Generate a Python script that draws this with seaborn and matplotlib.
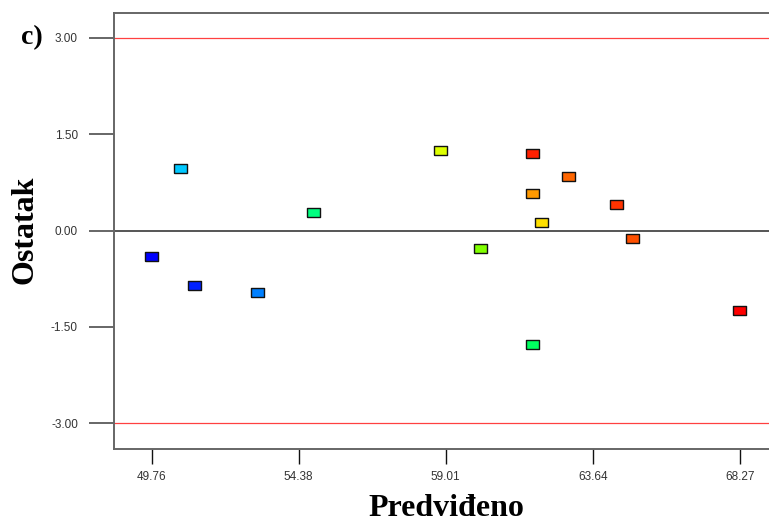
import matplotlib
matplotlib.use("Agg")
import matplotlib.pyplot as plt
import seaborn as sns
import pandas as pd

# Data
predicted = [49.76, 50.67, 51.11, 53.09, 54.85, 58.85, 60.11, 61.74, 61.74,
             62.03, 61.74, 62.87, 64.38, 64.88, 68.24]
residual = [-0.40, 0.96, -0.85, -0.96, 0.28, 1.24, -0.28, 1.20, 0.57,
            0.12, -1.77, 0.84, 0.40, -0.12, -1.24]
point_colors = ["#0000FF", "#00C8FF", "#0020FF", "#0080FF", "#00FF80",
                "#DDFF00", "#80FF00", "#FF2000", "#FF9900", "#FFE000",
                "#00FF60", "#FF6600", "#FF3300", "#FF5000", "#FF0000"]
x_ticks = [49.76, 54.38, 59.01, 63.64, 68.27]
y_ticks = [-3.00, -1.50, 0.00, 1.50, 3.00]
limit_lines = [-3.00, 3.00]

df = pd.DataFrame({"Predvideno": predicted, "Ostatak": residual,
                   "pt": [str(i) for i in range(len(predicted))]})
palette = {str(i): c for i, c in enumerate(point_colors)}

sns.set_style("white")
fig = plt.figure(figsize=(7.69, 5.27), dpi=100)
ax = fig.add_axes([114 / 769, 78 / 527, 1 - 114 / 769, (449 - 12.7) / 527])

ax.axhline(0, color="#555555", lw=1.4, zorder=1)
for v in limit_lines:
    ax.axhline(v, color="#FF4040", lw=0.9, zorder=1)

rect = [(-1, -0.68), (1, -0.68), (1, 0.68), (-1, 0.68), (-1, -0.68)]
sns.scatterplot(data=df, x="Predvideno", y="Ostatak", hue="pt", palette=palette,
                marker=rect, s=90, edgecolor="#111111", linewidth=1.0,
                legend=False, ax=ax, zorder=3)

ax.set_xlim(48.58, 69.17)
ax.set_ylim(-3.40, 3.39)
ax.set_xticks(x_ticks)
ax.set_xticklabels([f"{v:.2f}" for v in x_ticks])
ax.set_yticks(y_ticks)
ax.set_yticklabels([f"{v:.2f}" for v in y_ticks])

for side in ["left", "bottom", "top"]:
    ax.spines[side].set_color("#666666")
    ax.spines[side].set_linewidth(1.4)
ax.spines["right"].set_visible(False)

ax.tick_params(axis="x", direction="out", length=11, width=1.0, color="#111111",
               labelsize=8.5, labelcolor="#333333", pad=5, bottom=True)
ax.tick_params(axis="y", direction="out", length=18, width=1.4, color="#666666",
               labelsize=8.5, labelcolor="#333333", pad=8, left=True)
for lab in ax.get_xticklabels() + ax.get_yticklabels():
    lab.set_family(["Liberation Sans", "DejaVu Sans"])

ax.set_xlabel("")
ax.set_ylabel("")
serif = ["Liberation Serif", "DejaVu Serif"]
fig.text(446 / 769, 1 - 509 / 527, "Predviđeno", ha="center", va="center",
         fontsize=23, fontweight="bold", family=serif, color="black")
fig.text(25 / 769, 1 - 230 / 527, "Ostatak", ha="center", va="center", rotation=90,
         fontsize=23, fontweight="bold", family=serif, color="black")
fig.text(32 / 769, 1 - 38 / 527, "c)", ha="center", va="center",
         fontsize=20, fontweight="bold", family=serif, color="black")

fig.savefig("out.png", dpi=100)
